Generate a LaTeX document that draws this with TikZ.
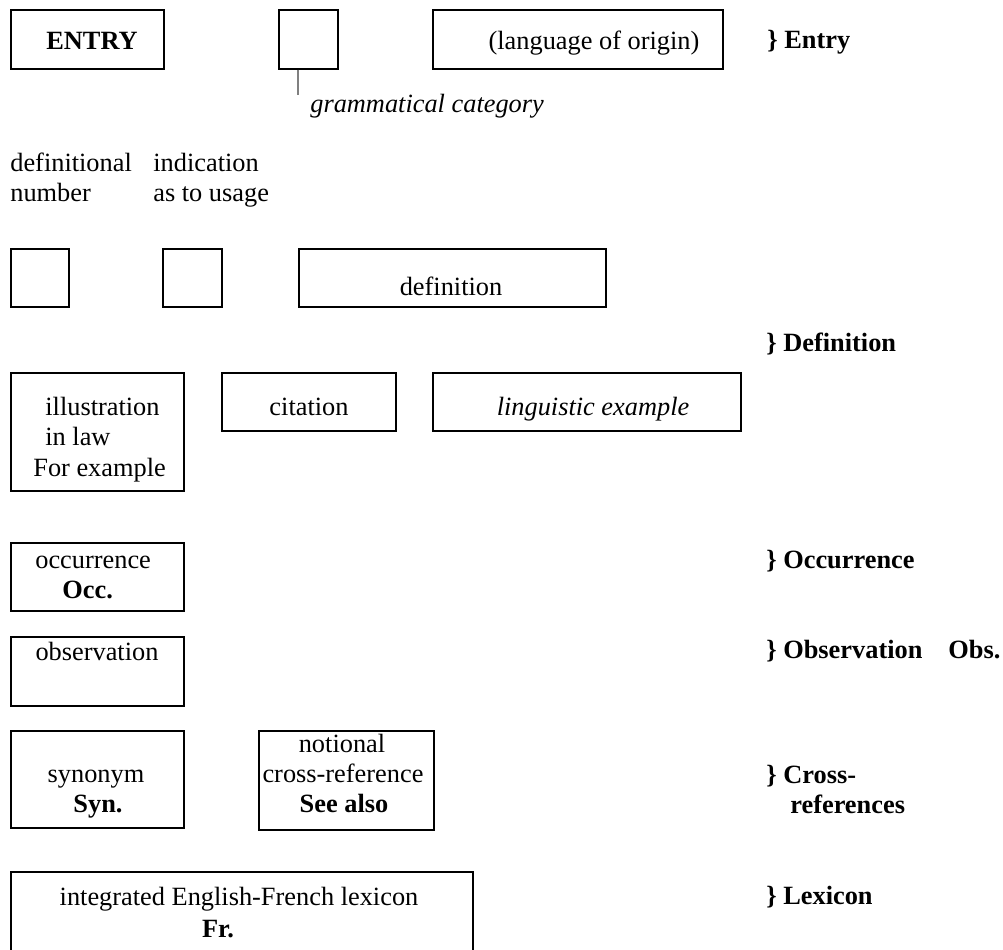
\documentclass[tikz,border=0pt]{standalone}
\usepackage{fontspec}
\setmainfont{Liberation Serif}

\begin{document}
\begin{tikzpicture}[x=0.02cm, y=-0.02cm,
    every node/.style={font=\fontsize{15}{18}\selectfont},
    box/.style={draw, line width=1pt, inner sep=0pt, anchor=north west},
    txt/.style={inner sep=0pt, anchor=mid, yshift=-0.09cm},
    lft/.style={inner sep=0pt, anchor=mid west, yshift=-0.09cm},
    sec/.style={inner sep=0pt, anchor=mid west, yshift=-0.09cm, font=\fontsize{15}{18}\selectfont\bfseries}]
    \useasboundingbox (0,0) rectangle (1003,949);

    % boxes
    \node(entry) [box, minimum width=3.06cm, minimum height=1.18cm] at (10,9) {};
    \node(gram) [box, minimum width=1.18cm, minimum height=1.18cm] at (278,9) {};
    \node(origin) [box, minimum width=5.80cm, minimum height=1.18cm] at (432,9) {};
    \node(defnum) [box, minimum width=1.16cm, minimum height=1.16cm] at (10,248) {};
    \node(usage) [box, minimum width=1.18cm, minimum height=1.16cm] at (162,248) {};
    \node(defn) [box, minimum width=6.14cm, minimum height=1.16cm] at (298,248) {};
    \node(illus) [box, minimum width=3.46cm, minimum height=2.36cm] at (10,372) {};
    \node(cite) [box, minimum width=3.48cm, minimum height=1.16cm] at (221,372) {};
    \node(ling) [box, minimum width=6.16cm, minimum height=1.16cm] at (432,372) {};
    \node(occ) [box, minimum width=3.46cm, minimum height=1.36cm] at (10,542) {};
    \node(obs) [box, minimum width=3.46cm, minimum height=1.38cm] at (10,636) {};
    \node(syn) [box, minimum width=3.46cm, minimum height=1.94cm] at (10,730) {};
    \node(notion) [box, minimum width=3.50cm, minimum height=1.98cm] at (258,730) {};
    \node(lex) [box, minimum width=9.24cm, minimum height=1.80cm] at (10,871) {};

    % texts in the boxes
    \node(entrytxt) [txt, font=\fontsize{15}{18}\selectfont\bfseries, anchor=center] at (92,36) {ENTRY};
    \node(origintxt) [txt] at (594,41) {(language of origin)};
    \node(gramtxt) [lft] at (310,104) {\itshape grammatical category};
    \node(defnumA) [lft] at (10,163) {definitional};
    \node(defnumB) [lft] at (10,193) {number};
    \node(usageA) [lft] at (153,163) {indication};
    \node(usageB) [lft] at (153,193) {as to usage};
    \node(defntxt) [txt] at (451,287) {definition};
    \node(illusA) [lft] at (45,407) {illustration};
    \node(illusB) [lft] at (45,437) {in law};
    \node(illusC) [lft] at (33,468) {For example};
    \node(citetxt) [txt] at (309,407) {citation};
    \node(lingtxt) [txt] at (593,407) {\itshape linguistic example};
    \node(occA) [lft] at (35,560) {occurrence};
    \node(occB) [lft, font=\fontsize{15}{18}\selectfont\bfseries] at (62,590) {Occ.};
    \node(obstxt) [txt] at (97,652) {observation};
    \node(synA) [txt] at (96,774) {synonym};
    \node(synB) [txt, font=\fontsize{15}{18}\selectfont\bfseries] at (98,804) {Syn.};
    \node(notionA) [txt] at (342,744) {notional};
    \node(notionB) [txt] at (343,774) {cross-reference};
    \node(notionC) [txt, font=\fontsize{15}{18}\selectfont\bfseries] at (344,804) {See also};
    \node(lexA) [txt] at (239,897) {integrated English-French lexicon};
    \node(lexB) [txt, font=\fontsize{15}{18}\selectfont\bfseries] at (218,929) {Fr.};

    % sections on the right
    \node(secentry) [sec] at (767,40) {\} Entry};
    \node(secdefn) [sec] at (766,343) {\} Definition};
    \node(secocc) [sec] at (766,560) {\} Occurrence};
    \node(secobs) [sec] at (766,650) {\} Observation};
    \node(obsabbr) [sec] at (948,650) {Obs.};
    \node(seccrossA) [sec] at (766,775) {\} Cross-};
    \node(seccrossB) [sec] at (790,805) {references};
    \node(seclex) [sec] at (766,896) {\} Lexicon};

    % tick under the grammatical category box
    \coordinate(tick) at (298,95);
    \draw[gray, line width=1pt](tick |- gram.south) -- (tick);
\end{tikzpicture}
\end{document}
